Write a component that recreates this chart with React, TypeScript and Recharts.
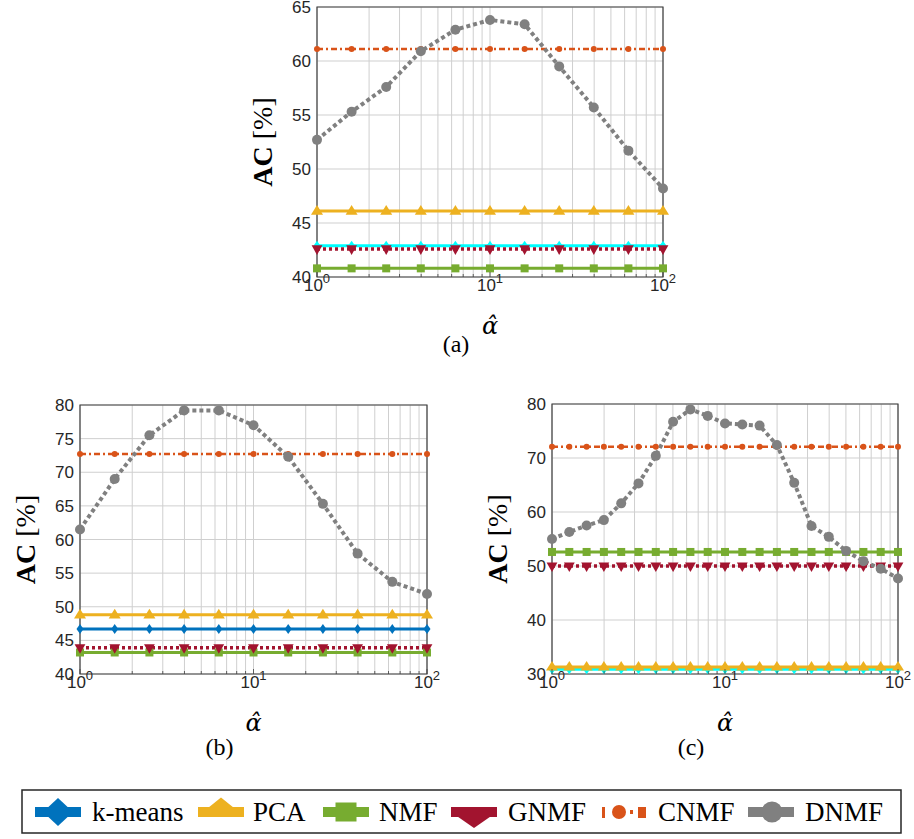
import React from "react";
import {
  ComposedChart,
  Line,
  XAxis,
  YAxis,
  CartesianGrid,
  ReferenceArea,
} from "recharts";

// alpha-hat sample points (log axis)
const alphaAB = [1, 1.585, 2.512, 3.981, 6.31, 10, 15.85, 25.12, 39.81, 63.1, 100];
const alphaC = [
  1, 1.259, 1.585, 1.995, 2.512, 3.162, 3.981, 5.012, 6.31, 7.943, 10, 12.59,
  15.85, 19.95, 25.12, 31.62, 39.81, 50.12, 63.1, 79.43, 100,
];
const xTicks = [1, 2, 3, 4, 5, 6, 7, 8, 9, 10, 20, 30, 40, 50, 60, 70, 80, 90, 100];

// DNMF curves
const dnmfA = [52.7, 55.3, 57.6, 60.9, 62.9, 63.8, 63.4, 59.5, 55.7, 51.7, 48.2];
const dnmfB = [61.5, 69.0, 75.5, 79.2, 79.2, 77.0, 72.3, 65.3, 57.9, 53.7, 51.9];
const dnmfC = [
  55.0, 56.3, 57.5, 58.5, 61.6, 65.3, 70.4, 76.7, 79.0, 77.8, 76.4, 76.2, 76.0,
  72.4, 65.4, 57.4, 55.4, 52.8, 50.9, 49.5, 47.7,
];

// baselines (flat in alpha)
const baseA = { kmeans: 42.9, pca: 46.1, nmf: 40.8, gnmf: 42.6, cnmf: 61.1 };
const baseB = { kmeans: 46.7, pca: 48.8, nmf: 43.2, gnmf: 43.9, cnmf: 72.7 };
const baseC = { kmeans: 30.9, pca: 31.3, nmf: 52.6, gnmf: 50.0, cnmf: 72.1 };

const yTicksA = [40, 45, 50, 55, 60, 65];
const yTicksB = [40, 45, 50, 55, 60, 65, 70, 75, 80];
const yTicksC = [30, 40, 50, 60, 70, 80];

const methods = ["k-means", "PCA", "NMF", "GNMF", "CNMF", "DNMF"];
const keys = ["kmeans", "pca", "nmf", "gnmf", "cnmf", "dnmf"];

const SANS = "'Liberation Sans', Arial, Helvetica, sans-serif";
const SERIF = "'Liberation Serif', 'Times New Roman', serif";

type Shape = "diamond" | "up" | "square" | "down" | "circle";

const STYLE: Record<string, { color: string; width: number; dash?: string; shape: Shape; size: number }> = {
  kmeans: { color: "#0072BD", width: 3, shape: "diamond", size: 5 },
  pca: { color: "#EDB120", width: 3, shape: "up", size: 6 },
  nmf: { color: "#77AC30", width: 3, shape: "square", size: 4 },
  gnmf: { color: "#A2142F", width: 3.5, dash: "3 3", shape: "down", size: 6 },
  cnmf: { color: "#D95319", width: 2.5, dash: "6 3 2 3", shape: "circle", size: 3 },
  dnmf: { color: "#808080", width: 4, dash: "4 3", shape: "circle", size: 5 },
};

function buildRows(alpha: number[], base: Record<string, number>, dnmf: number[]) {
  return alpha.map((a, i) => ({ alpha: a, ...base, dnmf: dnmf[i] }));
}

function Marker({ cx, cy, shape, color, size }: any) {
  if (cx == null || cy == null) return null;
  const s = size;
  if (shape === "diamond")
    return <path d={`M${cx},${cy - s} L${cx + s * 0.7},${cy} L${cx},${cy + s} L${cx - s * 0.7},${cy} Z`} fill={color} />;
  if (shape === "up")
    return <path d={`M${cx},${cy - s} L${cx + s},${cy + s * 0.6} L${cx - s},${cy + s * 0.6} Z`} fill={color} />;
  if (shape === "down")
    return <path d={`M${cx},${cy + s} L${cx + s * 0.9},${cy - s * 0.6} L${cx - s * 0.9},${cy - s * 0.6} Z`} fill={color} />;
  if (shape === "square")
    return <rect x={cx - s} y={cy - s} width={s * 2} height={s * 2} fill={color} />;
  return <circle cx={cx} cy={cy} r={s} fill={color} />;
}

function LogTick(props: any) {
  const { x, y, payload } = props;
  const v = payload.value;
  const lg = Math.log10(v);
  const exp = Math.round(lg);
  const major = Math.abs(lg - exp) < 1e-6;
  return (
    <g>
      <line x1={x} x2={x} y1={y} y2={y - (major ? 5 : 3)} stroke="#404040" strokeWidth={0.8} />
      {major && (
        <text x={x} y={y + 14} textAnchor="middle" fontSize={17} fontFamily={SANS} fill="#262626">
          10
          <tspan dy={-8} fontSize={13}>
            {exp}
          </tspan>
        </text>
      )}
    </g>
  );
}

interface PanelProps {
  rows: any[];
  L: number;
  R: number;
  T: number;
  B: number;
  yTicks: number[];
  kmeansColor: string;
}

function Panel({ rows, L, R, T, B, yTicks, kmeansColor }: PanelProps) {
  const mTop = 12;
  const yW = 60;
  const mRight = 20;
  const xH = 40;
  const width = yW + (R - L) + mRight;
  const height = mTop + (B - T) + xH;
  const yMin = yTicks[0];
  const yMax = yTicks[yTicks.length - 1];
  return (
    <div style={{ position: "absolute", left: L - yW, top: T - mTop }}>
      <ComposedChart
        width={width}
        height={height}
        data={rows}
        margin={{ top: mTop, right: mRight, bottom: 0, left: 0 }}
      >
        <CartesianGrid stroke="#cfcfcf" strokeWidth={1} />
        <XAxis
          dataKey="alpha"
          type="number"
          scale="log"
          domain={[1, 100]}
          ticks={xTicks}
          interval={0}
          tick={<LogTick />}
          tickLine={false}
          axisLine={false}
          tickSize={0}
          tickMargin={0}
          height={xH}
        />
        <YAxis
          type="number"
          domain={[yMin, yMax]}
          ticks={yTicks}
          interval={0}
          width={yW}
          tickLine={false}
          axisLine={false}
          tickSize={0}
          tickMargin={6}
          tick={{ fontSize: 17, fill: "#262626", fontFamily: SANS }}
        />
        <ReferenceArea
          x1={1}
          x2={100}
          y1={yMin}
          y2={yMax}
          fill="none"
          fillOpacity={0}
          stroke="#404040"
          strokeWidth={1.2}
          ifOverflow="visible"
        />
        {keys.map((k) => {
          const st = STYLE[k];
          const color = k === "kmeans" ? kmeansColor : st.color;
          return (
            <Line
              key={k}
              dataKey={k}
              type="linear"
              stroke={color}
              strokeWidth={st.width}
              strokeDasharray={st.dash}
              isAnimationActive={false}
              activeDot={false}
              legendType="none"
              dot={(p: any) => (
                <Marker key={`${k}-${p.index}`} cx={p.cx} cy={p.cy} shape={st.shape} color={color} size={st.size} />
              )}
            />
          );
        })}
      </ComposedChart>
    </div>
  );
}

const panels = [
  { rows: buildRows(alphaAB, baseA, dnmfA), L: 317, R: 663, T: 7, B: 277, yTicks: yTicksA, kmeansColor: "#00FFFF", caption: "(a)", capDy: 75 },
  { rows: buildRows(alphaAB, baseB, dnmfB), L: 80, R: 427, T: 405, B: 674, yTicks: yTicksB, kmeansColor: "#0072BD", caption: "(b)", capDy: 81 },
  { rows: buildRows(alphaC, baseC, dnmfC), L: 552, R: 898, T: 404, B: 674, yTicks: yTicksC, kmeansColor: "#00FFFF", caption: "(c)", capDy: 81 },
];

const legendIconX = [35, 198, 323, 451, 602, 748];
const legendTextX = [92, 253, 379, 508, 658, 805];

function LegendIcon({ k, x0 }: { k: string; x0: number }) {
  const c = STYLE[k].color;
  const cy = 812;
  const bar = <rect x={x0} y={cy - 5} width={46} height={10} fill={c} />;
  const cx = x0 + 23;
  if (k === "kmeans")
    return (
      <g>
        {bar}
        <path d={`M${cx},${cy - 14} L${cx + 15},${cy} L${cx},${cy + 14} L${cx - 15},${cy} Z`} fill={c} />
      </g>
    );
  if (k === "pca")
    return (
      <g>
        {bar}
        <path d={`M${cx},${cy - 14.5} L${cx + 23},${cy + 4} L${cx - 23},${cy + 4} Z`} fill={c} />
      </g>
    );
  if (k === "nmf")
    return (
      <g>
        {bar}
        <rect x={cx - 10.5} y={cy - 9.5} width={21} height={19} fill={c} />
      </g>
    );
  if (k === "gnmf")
    return (
      <g>
        {bar}
        <path d={`M${cx},${cy + 16} L${cx + 23},${cy} L${cx - 23},${cy} Z`} fill={c} />
      </g>
    );
  if (k === "cnmf")
    return (
      <g fill={c}>
        <rect x={x0} y={cy - 5} width={3} height={11} />
        <circle cx={x0 + 17} cy={cy} r={7} />
        <rect x={x0 + 28} y={cy - 2} width={3} height={4} />
        <rect x={x0 + 36} y={cy - 5} width={8} height={11} />
      </g>
    );
  return (
    <g>
      {bar}
      <circle cx={cx + 1} cy={cy} r={10.5} fill={c} />
    </g>
  );
}

export default function App() {
  return (
    <div style={{ position: "absolute", left: 0, top: 0, width: 914, height: 839, background: "#fff", overflow: "hidden" }}>
      {panels.map((p, i) => (
        <Panel key={i} rows={p.rows} L={p.L} R={p.R} T={p.T} B={p.B} yTicks={p.yTicks} kmeansColor={p.kmeansColor} />
      ))}
      <svg
        width={914}
        height={839}
        style={{ position: "absolute", left: 0, top: 0, pointerEvents: "none" }}
      >
        {panels.map((p, i) => {
          const yc = (p.T + p.B) / 2;
          const yx = p.L - 55;
          const xc = (p.L + p.R) / 2;
          return (
            <g key={i}>
              <text
                x={yx}
                y={yc}
                transform={`rotate(-90 ${yx} ${yc})`}
                textAnchor="middle"
                dominantBaseline="central"
                fontSize={28}
                fontFamily={SERIF}
                fill="#000"
              >
                <tspan fontWeight="bold">AC</tspan> [%]
              </text>
              <text
                x={xc}
                y={p.B + 57}
                textAnchor="middle"
                fontSize={24}
                fontStyle="italic"
                fontFamily="'DejaVu Serif', serif"
                fill="#000"
              >
                {"\u03B1\u0302"}
              </text>
              <text x={xc - 34} y={p.B + p.capDy} textAnchor="middle" fontSize={24} fontFamily={SERIF} fill="#000">
                {p.caption}
              </text>
            </g>
          );
        })}
        <rect x={22} y={790} width={879} height={43} fill="#fff" stroke="#262626" strokeWidth={1.5} />
        {keys.map((k, i) => (
          <g key={k}>
            <LegendIcon k={k} x0={legendIconX[i]} />
            <text x={legendTextX[i]} y={821} fontSize={27} fontFamily={SERIF} fill="#000">
              {methods[i]}
            </text>
          </g>
        ))}
      </svg>
    </div>
  );
}
